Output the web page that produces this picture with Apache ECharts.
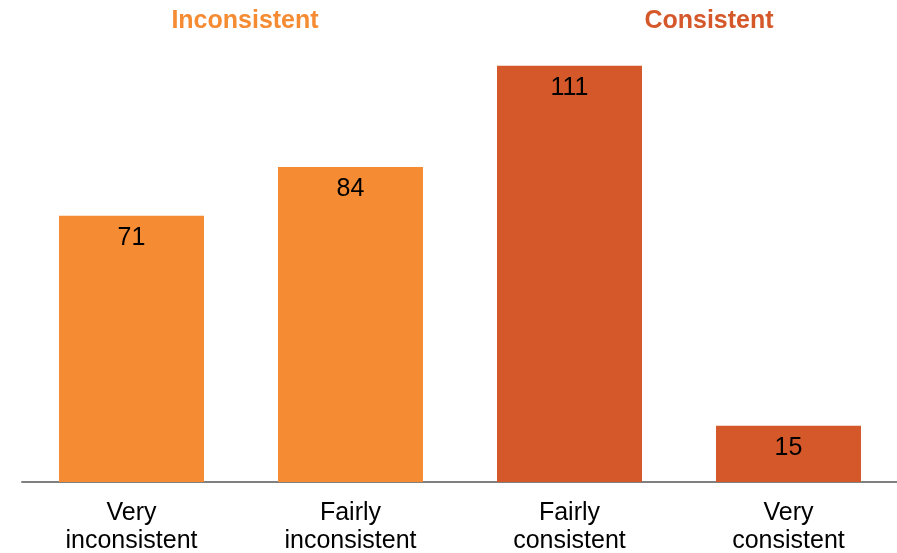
<!DOCTYPE html>
<html><head><meta charset="utf-8">
<script src="https://cdn.jsdelivr.net/npm/echarts@6/dist/echarts.min.js"></script>
<style>html,body{margin:0;padding:0;background:#fff}#c{width:897px;height:553px}</style>
</head><body><div id="c"></div>
<script>
const categories = ['Very\ninconsistent', 'Fairly\ninconsistent', 'Fairly\nconsistent', 'Very\nconsistent'];
const values = [71, 84, 111, 15];
const groups = ['Inconsistent', 'Inconsistent', 'Consistent', 'Consistent'];
const groupTitles = ['Inconsistent', 'Consistent'];
const groupColors = { 'Inconsistent': '#F58B33', 'Consistent': '#D4582A' };

const chart = echarts.init(document.getElementById('c'));
const titleStyle = { fontFamily: 'Liberation Sans, Arial', fontSize: 25, fontWeight: 'bold', textAlign: 'center', textVerticalAlign: 'middle' };
chart.setOption({
  animation: false,
  graphic: [
    { type: 'text', x: 245, y: 21, style: Object.assign({ text: groupTitles[0], fill: groupColors['Inconsistent'] }, titleStyle) },
    { type: 'text', x: 709, y: 21, style: Object.assign({ text: groupTitles[1], fill: groupColors['Consistent'] }, titleStyle) }
  ],
  grid: { left: 22, right: -1, top: 32, bottom: 71, containLabel: false, outerBoundsMode: 'none' },
  xAxis: {
    type: 'category', data: categories,
    axisLine: { lineStyle: { color: '#808080', width: 2 } },
    axisTick: { show: false },
    axisLabel: { color: '#000', fontFamily: 'Liberation Sans, Arial', fontSize: 25, lineHeight: 28, margin: 17, interval: 0 }
  },
  yAxis: { type: 'value', min: 0, max: 120, show: false, splitLine: { show: false } },
  series: [{
    type: 'bar',
    data: values.map((v, i) => ({ value: v, itemStyle: { color: groupColors[groups[i]] } })),
    barCategoryGap: '33.8%',
    label: { show: true, position: 'insideTop', distance: 10, color: '#000', fontFamily: 'Liberation Sans, Arial', fontSize: 25 }
  }]
});
</script></body></html>
